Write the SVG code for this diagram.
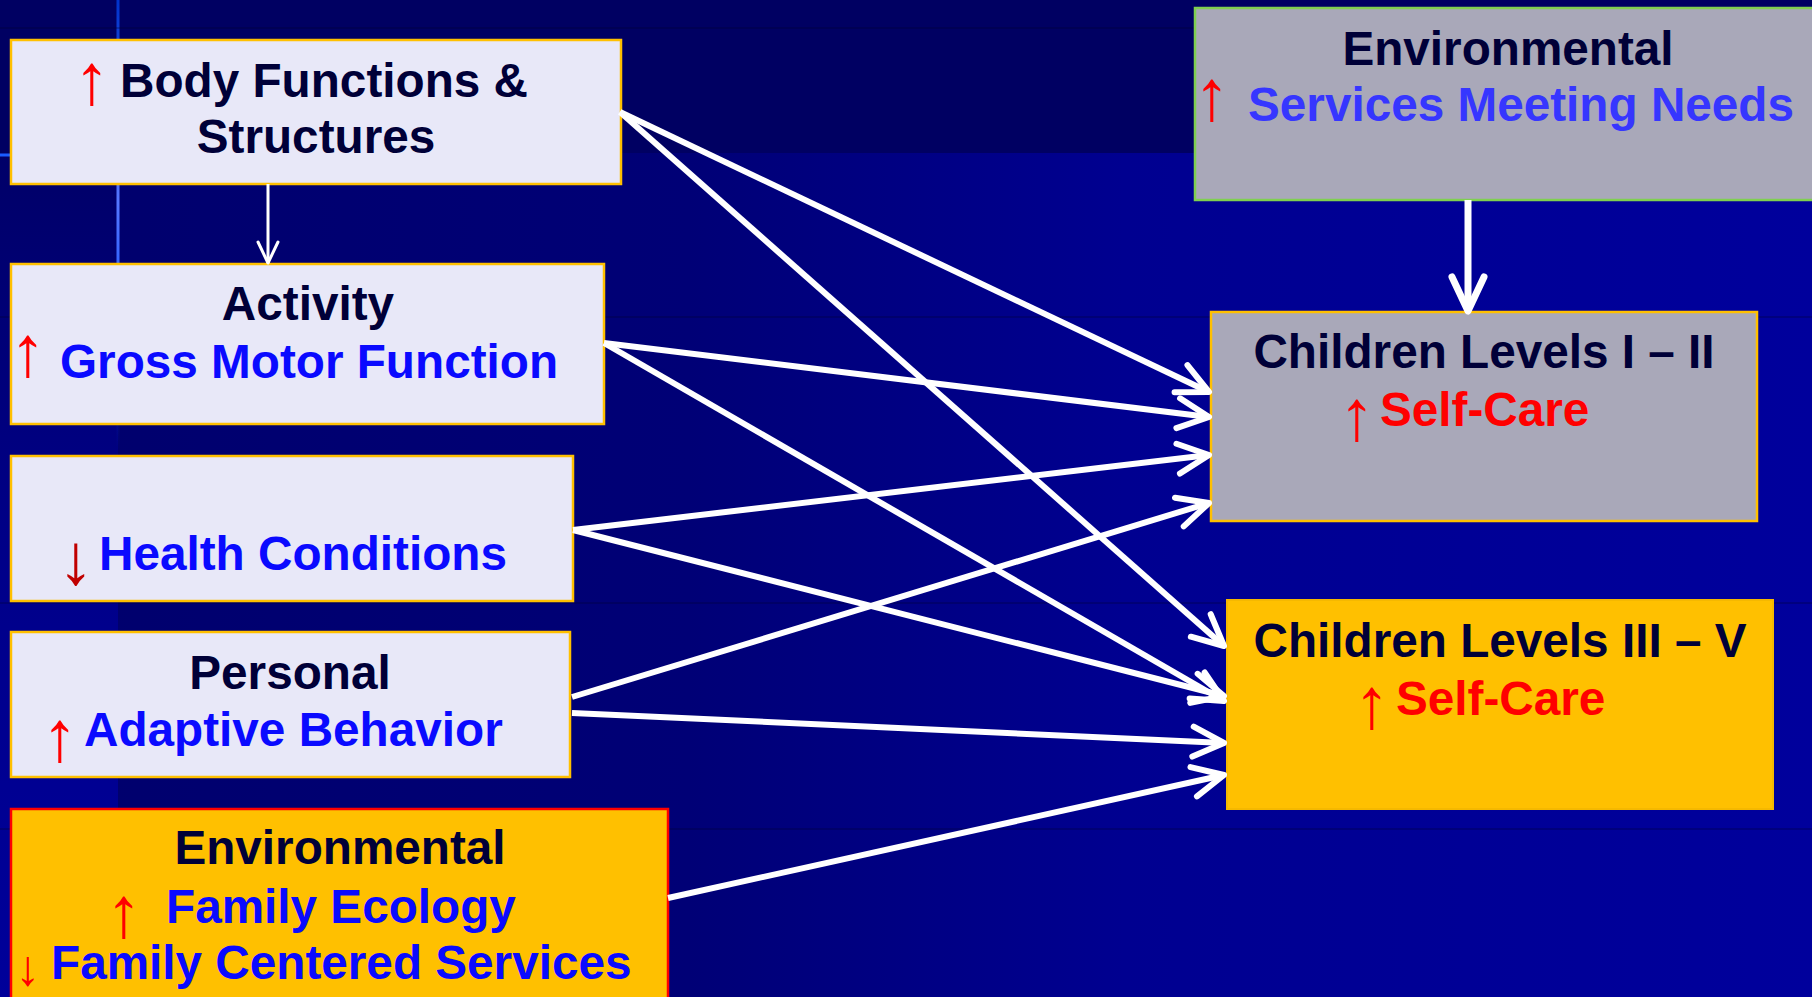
<svg xmlns="http://www.w3.org/2000/svg" width="1812" height="997" viewBox="0 0 1812 997">
  <defs>
    <linearGradient id="bgH" x1="0" y1="0" x2="1812" y2="0" gradientUnits="userSpaceOnUse">
      <stop offset="0" stop-color="#00006C"/>
      <stop offset="0.38" stop-color="#000076"/>
      <stop offset="0.62" stop-color="#000090"/>
      <stop offset="1" stop-color="#00009C"/>
    </linearGradient>
    <linearGradient id="bgL" x1="0" y1="153" x2="0" y2="997" gradientUnits="userSpaceOnUse">
      <stop offset="0" stop-color="#000068"/>
      <stop offset="0.5" stop-color="#00008A"/>
      <stop offset="1" stop-color="#00009A"/>
    </linearGradient>
    <linearGradient id="vline" x1="0" y1="0" x2="0" y2="450" gradientUnits="userSpaceOnUse">
      <stop offset="0" stop-color="#0033CC"/>
      <stop offset="0.45" stop-color="#5577FF"/>
      <stop offset="0.7" stop-color="#1A55FF"/>
      <stop offset="1" stop-color="#0022AA" stop-opacity="0"/>
    </linearGradient>
    <marker id="ah" markerUnits="userSpaceOnUse" orient="auto" overflow="visible" markerWidth="1" markerHeight="1" refX="0" refY="0">
      <path d="M-31,-15 L0,0 L-31,15" fill="none" stroke="#FFFFFF" stroke-width="6" stroke-linecap="round" stroke-linejoin="round"/>
    </marker>
    <marker id="ahBig" markerUnits="userSpaceOnUse" orient="auto" overflow="visible" markerWidth="1" markerHeight="1" refX="0" refY="0">
      <path d="M-34,-16 L0,0 L-34,16" fill="none" stroke="#FFFFFF" stroke-width="7" stroke-linecap="round" stroke-linejoin="round"/>
    </marker>
    <marker id="ahThin" markerUnits="userSpaceOnUse" orient="auto" overflow="visible" markerWidth="1" markerHeight="1" refX="0" refY="0">
      <path d="M-21,-10 L0,0 L-21,10" fill="none" stroke="#FFFFFF" stroke-width="3" stroke-linecap="round" stroke-linejoin="round"/>
    </marker>
  </defs>
  <style>
    text { font-family: "Liberation Sans", Arial, sans-serif; font-weight: bold; font-size: 47.7px; }
    .dk { fill: #000038; }
    .bl { fill: #0A0AFF; }
    .lb { fill: #3636FF; }
    .rd { fill: #FF0000; }
    .arr { font-weight: normal; font-size: 72px; fill: #FF0000; }
    .arrDk { font-weight: normal; font-size: 72px; fill: #C00000; }
    .lite { fill: #E8E8F8; stroke: #FFC000; stroke-width: 2.5; }
    .grey { fill: #A9A8B9; stroke: #FFC000; stroke-width: 2.5; }
    .gold { fill: #FFC000; stroke: #F5B800; stroke-width: 2; }
    .conn { stroke: #FFFFFF; stroke-width: 6; fill: none; marker-end: url(#ah); }
  </style>

  <!-- background -->
  <rect x="0" y="0" width="1812" height="997" fill="url(#bgH)"/>
  <rect x="0" y="0" width="1812" height="153" fill="#000062"/>
  <rect x="0" y="153" width="118" height="844" fill="url(#bgL)"/>
  <line x1="118" y1="0" x2="118" y2="450" stroke="url(#vline)" stroke-width="3"/>
  <line x1="0" y1="155" x2="12" y2="155" stroke="#1A5CFF" stroke-width="3"/>
  <g stroke="#000030" stroke-width="1.5" opacity="0.35">
    <line x1="0" y1="28" x2="1812" y2="28"/>
    <line x1="0" y1="317" x2="1812" y2="317"/>
    <line x1="0" y1="603" x2="1812" y2="603"/>
    <line x1="0" y1="829" x2="1812" y2="829"/>
  </g>

  <!-- nodes -->
  <g id="body-functions">
    <rect class="lite" x="11" y="40" width="610" height="144"/>
    <text class="arr" x="92" y="104" text-anchor="middle">↑</text>
    <text class="dk" x="120" y="97">Body Functions &amp;</text>
    <text class="dk" x="316" y="153" text-anchor="middle">Structures</text>
  </g>

  <g id="activity">
    <rect class="lite" x="11" y="264" width="593" height="160"/>
    <text class="dk" x="308" y="320" text-anchor="middle">Activity</text>
    <text class="arr" x="28" y="376" text-anchor="middle">↑</text>
    <text class="bl" x="60" y="378">Gross Motor Function</text>
  </g>

  <g id="health-conditions">
    <rect class="lite" x="11" y="456" width="562" height="145"/>
    <text class="arrDk" x="76" y="584" text-anchor="middle">↓</text>
    <text class="bl" x="99" y="570">Health Conditions</text>
  </g>

  <g id="personal">
    <rect class="lite" x="11" y="632" width="559" height="145"/>
    <text class="dk" x="290" y="689" text-anchor="middle">Personal</text>
    <text class="arr" x="60" y="761" text-anchor="middle">↑</text>
    <text class="bl" x="84" y="746">Adaptive Behavior</text>
  </g>

  <g id="env-family">
    <rect x="11" y="809" width="657" height="200" fill="#FFC000" stroke="#FF0000" stroke-width="2.5"/>
    <text class="dk" x="340" y="864" text-anchor="middle">Environmental</text>
    <text class="arr" x="124" y="937" text-anchor="middle">↑</text>
    <text class="bl" x="166" y="923">Family Ecology</text>
    <text class="arr" x="28" y="985" text-anchor="middle" style="font-size:50px">↓</text>
    <text class="bl" x="51" y="979">Family Centered Services</text>
  </g>

  <g id="env-services">
    <rect x="1195" y="8" width="630" height="192" fill="#A9A8B9" stroke="#80D050" stroke-width="2.5"/>
    <text class="dk" x="1508" y="65" text-anchor="middle">Environmental</text>
    <text class="arr" x="1212" y="120" text-anchor="middle">↑</text>
    <text class="lb" x="1248" y="121">Services Meeting Needs</text>
  </g>

  <g id="children-1-2">
    <rect class="grey" x="1211" y="312" width="546" height="209"/>
    <text class="dk" x="1484" y="368" text-anchor="middle">Children Levels I – II</text>
    <text class="arr" x="1357" y="440" text-anchor="middle">↑</text>
    <text class="rd" x="1380" y="426">Self-Care</text>
  </g>

  <g id="children-3-5">
    <rect class="gold" x="1227" y="600" width="546" height="209"/>
    <text class="dk" x="1500" y="657" text-anchor="middle">Children Levels III – V</text>
    <text class="arr" x="1372" y="728" text-anchor="middle">↑</text>
    <text class="rd" x="1396" y="715">Self-Care</text>
  </g>

  <!-- connectors -->
  <g id="connectors">
    <line x1="268" y1="184" x2="268" y2="263" stroke="#FFFFFF" stroke-width="3" marker-end="url(#ahThin)"/>
    <line x1="1468" y1="200" x2="1468" y2="311" stroke="#FFFFFF" stroke-width="7" marker-end="url(#ahBig)"/>
    <line class="conn" x1="620" y1="112" x2="1209" y2="392"/>
    <line class="conn" x1="620" y1="112" x2="1224" y2="646"/>
    <line class="conn" x1="604" y1="343" x2="1209" y2="417"/>
    <line class="conn" x1="604" y1="343" x2="1224" y2="701"/>
    <line class="conn" x1="573" y1="530" x2="1209" y2="455"/>
    <line class="conn" x1="573" y1="530" x2="1224" y2="696"/>
    <line class="conn" x1="572" y1="697" x2="1209" y2="503"/>
    <line class="conn" x1="572" y1="713" x2="1224" y2="743"/>
    <line class="conn" x1="668" y1="898" x2="1224" y2="775"/>
  </g>
</svg>
